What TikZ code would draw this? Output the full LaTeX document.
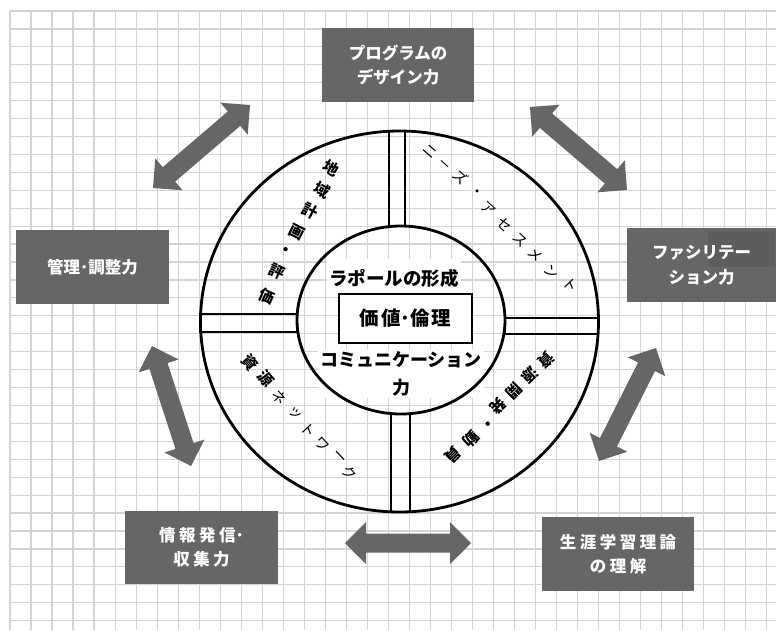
\documentclass[tikz,border=0pt]{standalone}
\usepackage{fontspec}
\newfontfamily\jp{Noto Sans CJK JP}
\usetikzlibrary{calc}
\definecolor{boxgray}{HTML}{666666}
\definecolor{patchgray}{HTML}{5D5D5D}
\definecolor{gridgray}{HTML}{D4D4D4}
\newcommand\ks{\kern3.5pt}
\newcommand\fatarr[2]{%
  \coordinate (tmpP) at ($(#1)!21pt!(#2)$);
  \coordinate (tmpQ) at ($(#2)!21pt!(#1)$);
  \fill[boxgray] (#1) -- ($(tmpP)!21pt!90:(#2)$) -- ($(tmpP)!9.5pt!90:(#2)$)
    -- ($(tmpQ)!9.5pt!-90:(#1)$) -- ($(tmpQ)!21pt!-90:(#1)$) -- (#2)
    -- ($(tmpQ)!21pt!90:(#1)$) -- ($(tmpQ)!9.5pt!90:(#1)$)
    -- ($(tmpP)!9.5pt!-90:(#2)$) -- ($(tmpP)!21pt!-90:(#2)$) -- cycle;
}
\begin{document}
\begin{tikzpicture}[x=1pt,y=-1pt,
  gridline/.style={draw=gridgray, line width=1.2pt},
  darkbox/.style={fill=boxgray, text=white, font=\jp\bfseries\fontsize{16.5}{24.5}\selectfont, align=center, inner sep=0pt},
  centertxt/.style={font=\jp\bfseries\fontsize{18.5}{28}\selectfont, fill=white, align=center, inner sep=2pt},
  ringline/.style={draw=black, line width=2.8pt},
  barline/.style={draw=black, line width=2.2pt},
  rk/.style={font=\jp\bfseries\fontsize{15.5}{15.5}\selectfont, inner sep=0pt},
  rn/.style={font=\jp\fontsize{14.5}{14.5}\selectfont, inner sep=0pt}]
\useasboundingbox (0,0) rectangle (776,630);
\fill[white] (0,0) rectangle (776,630);
% grid
\foreach \i in {0,...,36} \draw[gridline] ({10+21.02*\i},11) -- ({10+21.02*\i},630);
\foreach \j in {0,...,34} \draw[gridline] (10,{11+17.93*\j}) -- (776,{11+17.93*\j});
% centre texts (white backgrounds)
\node[centertxt, minimum height=38pt] (rapport) at (394,278) {ラポールの形成};
\node[centertxt, font=\jp\bfseries\fontsize{18}{28}\selectfont] (comm) at (401,374) {コミュニケーション\\力};
% rings and bars
\draw[barline] (389,131) rectangle (405,226);
\draw[barline] (391,414) rectangle (410,512);
\draw[barline] (200,314) rectangle (297,332);
\draw[barline] (505,318) rectangle (598,334);
\draw[ringline] (399.5,321.5) ellipse [x radius=199, y radius=190.5];
\draw[ringline] (401,320) ellipse [x radius=104, y radius=94];
\node[draw=black, line width=2pt, fill=white, minimum width=133pt, minimum height=49pt,
  font=\jp\bfseries\fontsize{19.5}{24}\selectfont] (val) at (405.5,318.5) {価\kern2pt 値･倫\kern2pt 理};
% ring text: top-left
\node[rk, rotate=-30] (tl1) at (331.7,168.3) {地};
\node[rk, rotate=-29] (tl2) at (321.7,190) {域};
\node[rk, rotate=-28] (tl3) at (310,210.5) {計};
\node[rk, rotate=-27] (tl4) at (297,231.7) {画};
\node[rk, rotate=-26] (tl5) at (285,251.7) {・};
\node[rk, rotate=-25] (tl6) at (277,271.7) {評};
\node[rk, rotate=-24] (tl7) at (267,296.7) {価};
% top-right
\node[rn, rotate=-41] (tr1) at (430,151.5) {ニ};
\node[rn, rotate=-42, font=\jp\fontsize{12}{12}\selectfont] (tr2) at (444,165.5) {ー};
\node[rn, rotate=-42] (tr3) at (460.5,177.2) {ズ};
\node[rn, rotate=-43] (tr4) at (476,193.3) {・};
\node[rn, rotate=-43] (tr5) at (488.3,208.3) {ア};
\node[rn, rotate=-44] (tr6) at (505,225) {セ};
\node[rn, rotate=-44] (tr7) at (520,240) {ス};
\node[rn, rotate=-45] (tr8) at (535,255) {メ};
\node[rn, rotate=-45] (tr9) at (551.7,271.7) {ン};
\node[rn, rotate=-46] (tr10) at (570,285) {ト};
% bottom-left
\node[rk, rotate=-50] (bl1) at (249.5,362.5) {資};
\node[rk, rotate=-49] (bl2) at (265.5,378.5) {源};
\node[rn, rotate=-48] (bl3) at (279.5,397.5) {ネ};
\node[rn, rotate=-48] (bl4) at (295,413) {ッ};
\node[rn, rotate=-47] (bl5) at (308.3,429.7) {ト};
\node[rn, rotate=-47] (bl6) at (321.7,444.7) {ワ};
\node[rn, rotate=-46] (bl7) at (338.3,458) {ー};
\node[rn, rotate=-46] (bl8) at (350,473) {ク};
% bottom-right
\node[rk, rotate=-135] (br1) at (546,360) {資};
\node[rk, rotate=-135] (br2) at (530,375.5) {源};
\node[rk, rotate=-135] (br3) at (514,391) {開};
\node[rk, rotate=-135] (br4) at (498,406) {発};
\node[rk, rotate=-135] (br5) at (486.7,423.3) {・};
\node[rk, rotate=-135] (br6) at (471,439.5) {動};
\node[rk, rotate=-135] (br7) at (453.3,455) {員};
% outer boxes
\node[darkbox, minimum width=152pt, minimum height=74pt] (prog) at (398,65) {プログラムの\\デザイン力};
\node[darkbox, minimum width=153pt, minimum height=74pt] (kanri) at (92.5,267) {管理･調整力};
\node[darkbox, minimum width=149pt, minimum height=74pt,
  path picture={\fill[patchgray] ($(path picture bounding box.north east)+(-68,3)$) rectangle ($(path picture bounding box.north east)+(-1,39)$);}] (faci) at (701.5,265) {ファシリテー\\ション力};
\node[darkbox, minimum width=153pt, minimum height=73pt] (joho) at (201.5,547.5) {情\ks 報\ks 発\ks 信･\\収\ks 集\ks 力};
\node[darkbox, minimum width=152pt, minimum height=74pt] (shogai) at (618,554) {生\ks 涯\ks 学\ks 習\ks 理\ks 論\\の\ks 理\ks 解};
% arrows
\coordinate (a1s) at (153,188); \coordinate (a1e) at (250,105);
\coordinate (a2s) at (530,107); \coordinate (a2e) at (627,190);
\coordinate (a3s) at (152,346); \coordinate (a3e) at (191,466);
\coordinate (a4s) at (656,348); \coordinate (a4e) at (599,461);
\coordinate (a5s) at (345,543); \coordinate (a5e) at (471,543);
\fatarr{a1s}{a1e}
\fatarr{a2s}{a2e}
\fatarr{a3s}{a3e}
\fatarr{a4s}{a4e}
\fatarr{a5s}{a5e}
\end{tikzpicture}
\end{document}
